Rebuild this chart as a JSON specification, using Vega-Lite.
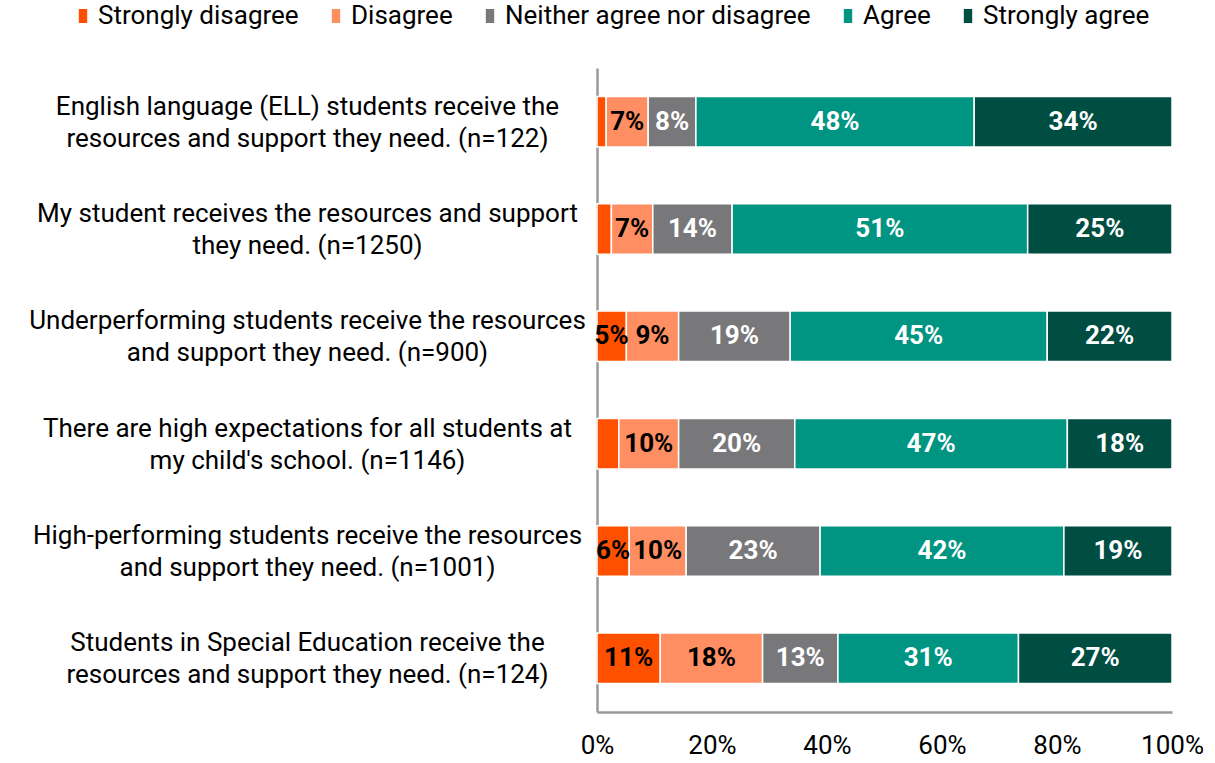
{
  "$schema": "https://vega.github.io/schema/vega-lite/v6.json",
  "width": 575,
  "height": 644,
  "autosize": {"type": "none"},
  "padding": {"left": 597, "top": 68, "right": 43, "bottom": 51},
  "background": "white",
  "config": {"font": "Roboto", "view": {"stroke": null}},
  "data": {
    "values": [
      {"q": "English language (ELL) students receive the|resources and support they need. (n=122)", "k": "Strongly disagree", "v": 0.016},
      {"q": "English language (ELL) students receive the|resources and support they need. (n=122)", "k": "Disagree", "v": 0.073},
      {"q": "English language (ELL) students receive the|resources and support they need. (n=122)", "k": "Neither agree nor disagree", "v": 0.083},
      {"q": "English language (ELL) students receive the|resources and support they need. (n=122)", "k": "Agree", "v": 0.484},
      {"q": "English language (ELL) students receive the|resources and support they need. (n=122)", "k": "Strongly agree", "v": 0.344},
      {"q": "My student receives the resources and support|they need. (n=1250)", "k": "Strongly disagree", "v": 0.025},
      {"q": "My student receives the resources and support|they need. (n=1250)", "k": "Disagree", "v": 0.072},
      {"q": "My student receives the resources and support|they need. (n=1250)", "k": "Neither agree nor disagree", "v": 0.138},
      {"q": "My student receives the resources and support|they need. (n=1250)", "k": "Agree", "v": 0.514},
      {"q": "My student receives the resources and support|they need. (n=1250)", "k": "Strongly agree", "v": 0.251},
      {"q": "Underperforming students receive the resources|and support they need. (n=900)", "k": "Strongly disagree", "v": 0.051},
      {"q": "Underperforming students receive the resources|and support they need. (n=900)", "k": "Disagree", "v": 0.091},
      {"q": "Underperforming students receive the resources|and support they need. (n=900)", "k": "Neither agree nor disagree", "v": 0.194},
      {"q": "Underperforming students receive the resources|and support they need. (n=900)", "k": "Agree", "v": 0.447},
      {"q": "Underperforming students receive the resources|and support they need. (n=900)", "k": "Strongly agree", "v": 0.217},
      {"q": "There are high expectations for all students at|my child's school. (n=1146)", "k": "Strongly disagree", "v": 0.038},
      {"q": "There are high expectations for all students at|my child's school. (n=1146)", "k": "Disagree", "v": 0.104},
      {"q": "There are high expectations for all students at|my child's school. (n=1146)", "k": "Neither agree nor disagree", "v": 0.202},
      {"q": "There are high expectations for all students at|my child's school. (n=1146)", "k": "Agree", "v": 0.474},
      {"q": "There are high expectations for all students at|my child's school. (n=1146)", "k": "Strongly agree", "v": 0.182},
      {"q": "High-performing students receive the resources|and support they need. (n=1001)", "k": "Strongly disagree", "v": 0.056},
      {"q": "High-performing students receive the resources|and support they need. (n=1001)", "k": "Disagree", "v": 0.099},
      {"q": "High-performing students receive the resources|and support they need. (n=1001)", "k": "Neither agree nor disagree", "v": 0.233},
      {"q": "High-performing students receive the resources|and support they need. (n=1001)", "k": "Agree", "v": 0.424},
      {"q": "High-performing students receive the resources|and support they need. (n=1001)", "k": "Strongly agree", "v": 0.188},
      {"q": "Students in Special Education receive the|resources and support they need. (n=124)", "k": "Strongly disagree", "v": 0.110},
      {"q": "Students in Special Education receive the|resources and support they need. (n=124)", "k": "Disagree", "v": 0.178},
      {"q": "Students in Special Education receive the|resources and support they need. (n=124)", "k": "Neither agree nor disagree", "v": 0.131},
      {"q": "Students in Special Education receive the|resources and support they need. (n=124)", "k": "Agree", "v": 0.314},
      {"q": "Students in Special Education receive the|resources and support they need. (n=124)", "k": "Strongly agree", "v": 0.267}
    ]
  },
  "transform": [
    {"calculate": "indexof(['Strongly disagree','Disagree','Neither agree nor disagree','Agree','Strongly agree'], datum.k)", "as": "o"},
    {"stack": "v", "groupby": ["q"], "sort": [{"field": "o", "order": "ascending"}], "as": ["x0", "x1"]},
    {"calculate": "(datum.x0 + datum.x1) / 2", "as": "mid"}
  ],
  "encoding": {
    "y": {
      "field": "q",
      "type": "nominal",
      "sort": null,
      "scale": {"paddingInner": 0.53, "paddingOuter": 0.265},
      "axis": {
        "title": null,
        "ticks": false,
        "domain": true,
        "domainColor": "#9a9a9a",
        "domainWidth": 2.5,
        "labelFontSize": 26,
        "labelColor": "#000000",
        "labelAlign": "center",
        "labelBaseline": "middle",
        "labelPadding": 290,
        "labelOffset": -15,
        "labelLimit": 0,
        "labelLineHeight": 32,
        "labelExpr": "split(datum.label, '|')"
      }
    }
  },
  "layer": [
    {
      "mark": {"type": "bar", "stroke": "white", "strokeWidth": 1.5},
      "encoding": {
        "x": {
          "field": "x0",
          "type": "quantitative",
          "scale": {"domain": [0, 1]},
          "axis": {
            "title": null,
            "format": ".0%",
            "values": [0, 0.2, 0.4, 0.6, 0.8, 1],
            "ticks": false,
            "grid": false,
            "domainColor": "#9a9a9a",
            "domainWidth": 2.5,
            "labelFontSize": 26,
            "labelColor": "#000000",
            "labelPadding": 20,
            "labelFlush": false,
            "labelOverlap": false
          }
        },
        "x2": {"field": "x1"},
        "color": {
          "field": "k",
          "type": "nominal",
          "scale": {
            "domain": ["Strongly disagree", "Disagree", "Neither agree nor disagree", "Agree", "Strongly agree"],
            "range": ["#FF5000", "#FF8F62", "#78787A", "#009482", "#004D42"]
          },
          "legend": {
            "title": null,
            "orient": "none",
            "direction": "horizontal",
            "legendX": -527,
            "legendY": -65,
            "symbolType": "M-0.6,-1H0.6V1H-0.6Z",
            "symbolSize": 196,
            "symbolStrokeWidth": 0,
            "labelFontSize": 26,
            "labelColor": "#000000",
            "labelOffset": 2,
            "columnPadding": 24,
            "labelLimit": 0
          }
        }
      }
    },
    {
      "transform": [{"filter": "datum.v >= 0.045"}],
      "mark": {"type": "text", "fontWeight": "bold", "fontSize": 26},
      "encoding": {
        "x": {"field": "mid", "type": "quantitative"},
        "text": {"field": "v", "format": ".0%"},
        "fill": {
          "condition": {"test": "datum.k === 'Strongly disagree' || datum.k === 'Disagree'", "value": "#000000"},
          "value": "#FFFFFF"
        }
      }
    }
  ]
}
